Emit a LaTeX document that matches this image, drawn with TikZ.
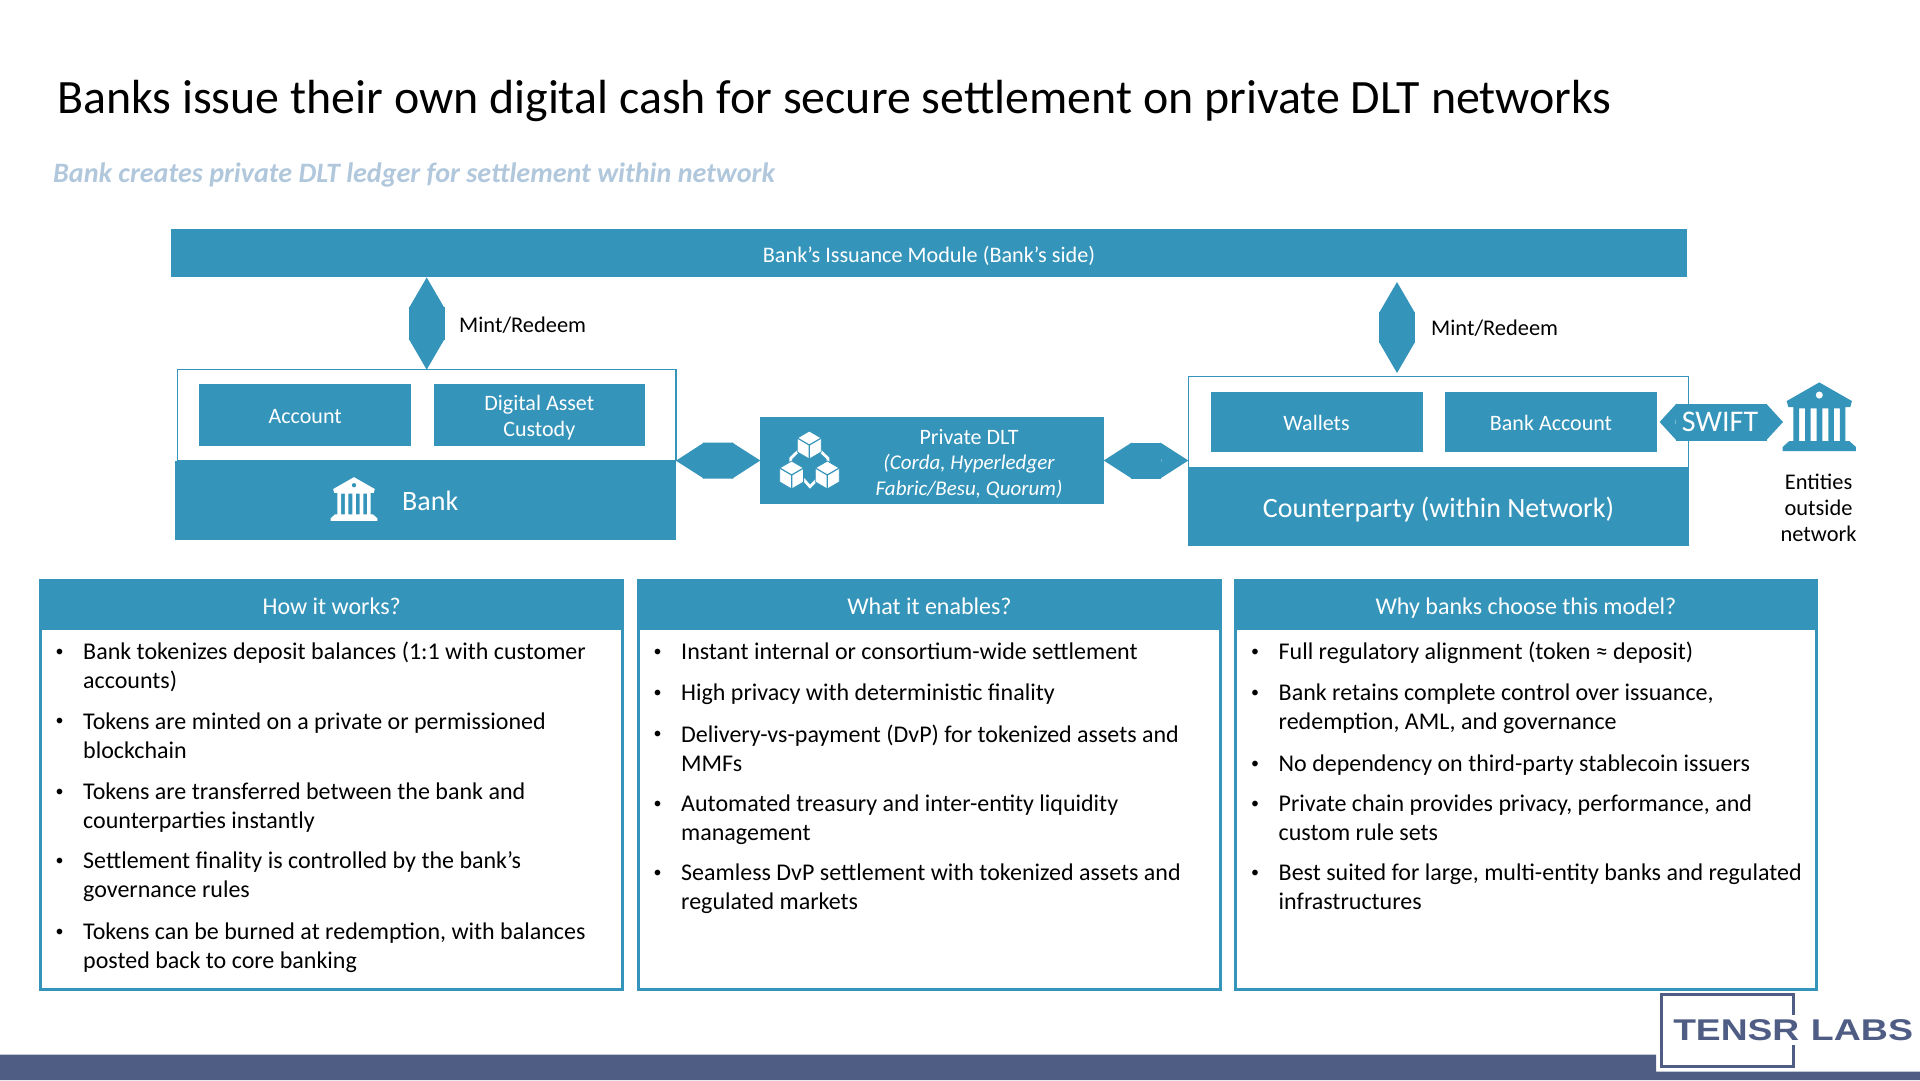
\documentclass[tikz,border=0pt]{standalone}
\usepackage{fontspec}
\setmainfont{Carlito}
\newfontfamily\logofont{Liberation Sans}
\usepackage{xcolor}
\usetikzlibrary{arrows.meta}
\definecolor{tealblue}{HTML}{3494BA}
\definecolor{slatebar}{HTML}{4F5D85}
\definecolor{subtitleblue}{HTML}{B0C7DC}

\tikzset{
    pics/bankicon/.style={code={
        \fill[#1, even odd rule]
            (0,-103) -- (98,-47) -- (93,-29) -- (78,-29) -- (78,73) -- (90,73) -- (110,91) -- (110,103)
            -- (-110,103) -- (-110,91) -- (-90,73) -- (-78,73) -- (-78,-29) -- (-93,-29) -- (-98,-47) -- cycle
            (-61,-25) rectangle (-43,73) (-26,-25) rectangle (-8,73)
            (9,-25) rectangle (27,73) (44,-25) rectangle (62,73)
            (0,-65) circle (11);
    }},
    pics/cubeicon/.style={code={
        \draw[white, line width=2.8pt] (-30,-30) -- (-56,-5) -- (-56,15) (30,-30) -- (56,-5) -- (56,15)
            (-20,55) -- (2,80) -- (27,55);
        \foreach \cx/\cy in {0/-45, -53/45, 54/45} {
            \filldraw[fill=white, draw=tealblue, line width=0.8pt, shift={(\cx,\cy)}]
                (0,-42) -- (36,-21) -- (36,21) -- (0,42) -- (-36,21) -- (-36,-21) -- cycle;
            \draw[tealblue, line width=1.2pt, shift={(\cx,\cy)}] (-36,-21) -- (0,0) -- (36,-21) (0,0) -- (0,42);
        }
    }},
}

\begin{document}
\begin{tikzpicture}[
    x=1pt, y=-1pt,
    bluebox/.style={
        fill=tealblue,
        text=white,
        inner sep=0pt,
        outer sep=0pt,
        align=center,
        text height=17pt,
        text depth=0pt,
        font=\fontsize{22}{26}\selectfont,
    },
    framebox/.style={
        draw=tealblue,
        fill=white,
        line width=1.2pt,
        inner sep=0pt,
        outer sep=0pt,
    },
    panelbox/.style={
        draw=tealblue,
        fill=white,
        line width=3pt,
        minimum width=581.5pt,
        minimum height=409pt,
        inner sep=0pt,
        outer sep=0pt,
    },
    panelhead/.style={
        bluebox,
        yshift=1.5pt,
        text height=20pt,
        minimum width=584.5pt,
        minimum height=51pt,
        font=\fontsize{24}{28}\selectfont,
    },
    plainlabel/.style={
        anchor=base,
        inner sep=0pt,
        align=center,
        font=\fontsize{22.4}{26}\selectfont,
    },
    itemtext/.style={
        anchor=base west,
        inner sep=0pt,
        align=left,
        font=\fontsize{24}{29}\selectfont,
    },
    itemmark/.style={
        anchor=base,
        inner sep=0pt,
        yshift=3pt,
        font=\fontsize{16}{20}\selectfont,
    },
    hflow/.style={
        draw=tealblue,
        line width=36pt,
        {Stealth[length=28pt,width=36pt,inset=1pt,line width=0pt]}-{Stealth[length=28pt,width=36pt,inset=1pt,line width=0pt]},
    },
    vflow/.style={
        draw=tealblue,
        line width=36pt,
        {Stealth[length=31pt,width=36pt,inset=1pt,line width=0pt]}-{Stealth[length=31pt,width=36pt,inset=1pt,line width=0pt]},
    },
    swiftflow/.style={
        draw=tealblue,
        line width=37pt,
        {Stealth[length=17pt,width=37pt,inset=1pt,line width=0pt]}-{Stealth[length=17pt,width=37pt,inset=1pt,line width=0pt]},
    },
]
\useasboundingbox (0,0) rectangle (1920,1080);

% Title
\node[anchor=base west, inner sep=0pt, font=\fontsize{47.9}{52}\selectfont] (title) at (57,113)
    {Banks issue their own digital cash for secure settlement on private DLT networks};
\node[anchor=base west, inner sep=0pt, text=subtitleblue, font=\fontsize{28.1}{32}\selectfont\bfseries\itshape] (subtitle) at (53,182)
    {Bank creates private DLT ledger for settlement within network};

% Top bar
\node[bluebox, text height=18.5pt, minimum width=1516pt, minimum height=48.5pt, font=\fontsize{22.2}{26}\selectfont] (issuance) at (929,253.2) {Bank’s Issuance Module (Bank’s side)};

% Bank side
\node[framebox, minimum width=498.5pt, minimum height=91pt] (bankframe) at (426.7,415.2) {};
\node[bluebox, minimum width=501.4pt, minimum height=79.3pt] (bankblock) at (425.7,500.3) {};
\node[bluebox, minimum width=211.6pt, minimum height=61.7pt] (account) at (305.2,414.8) {Account};
\node[bluebox, text height=43pt, minimum width=211.4pt, minimum height=61.7pt] (custody) at (539.3,414.8) {Digital Asset\\Custody};
\pic[scale=0.212] at (354,499) {bankicon=white};
\node[anchor=base west, inner sep=0pt, text=white, font=\fontsize{28}{32}\selectfont] (banklabel) at (402,510) {Bank};

% Private DLT
\node[bluebox, minimum width=343.5pt, minimum height=87pt] (dlt) at (932,460.5) {};
\pic[scale=0.333] at (809.3,460) {cubeicon};
\node[text=white, inner sep=0pt, align=center, anchor=base, font=\fontsize{22}{25.5}\selectfont] (dlttext) at (969,495)
    {Private DLT\\{\fontsize{21}{25.5}\selectfont\itshape (Corda, Hyperledger}\\{\fontsize{21}{25.5}\selectfont\itshape Fabric/Besu, Quorum)}};

% Counterparty side
\node[framebox, minimum width=500pt, minimum height=91.3pt] (cpframe) at (1438.3,422.4) {};
\node[bluebox, minimum width=501pt, minimum height=77.7pt, text height=21pt, font=\fontsize{28}{32}\selectfont] (cpblock) at (1438.5,506.9) {Counterparty (within Network)};
\node[bluebox, text height=18.5pt, minimum width=212pt, minimum height=59.8pt] (wallets) at (1316.5,421.6) {Wallets};
\node[bluebox, text height=18.5pt, minimum width=211.6pt, minimum height=59.8pt] (bankaccount) at (1551,421.6) {Bank Account};

% Flows
\coordinate (mintrtop) at (1397,282);
\coordinate (mintrbot) at (1397,373);
\coordinate (swiftin) at (1659.6,422);
\coordinate (swiftout) at (1783,422);
\draw[vflow] (bankframe.north |- issuance.south) -- (bankframe.north);
\draw[vflow] (mintrtop) -- (mintrbot);
\draw[hflow] (bankframe.south east) -- (dlt.west);
\draw[hflow] (dlt.east) -- (dlt.east -| cpframe.west);
\draw[swiftflow] (swiftin) -- (swiftout);
\node[text=white, inner sep=0pt, font=\fontsize{30}{32}\selectfont] (swift) at (1720,422) {SWIFT};
\node[plainlabel, anchor=base west] (mintleft) at (459,332.5) {Mint/Redeem};
\node[plainlabel, anchor=base west] (mintright) at (1431,335) {Mint/Redeem};

% Outside network
\pic[scale=0.333] at (1819.3,416.7) {bankicon=tealblue};
\node[plainlabel] (entities) at (1818.6,489) {Entities};
\node[plainlabel] (outside) at (1818.6,515) {outside};
\node[plainlabel] (network) at (1818.6,541.5) {network};

% How it works
\node[panelbox] (howbox) at (331.7,785) {};
\node[panelhead, anchor=north] (howhead) at (howbox.north) {How it works?};
\foreach \y/\z/\txt in {
    659/688/{Bank tokenizes deposit balances (1:1 with customer\\accounts)},
    728/758/{Tokens are minted on a private or permissioned\\blockchain},
    799/828/{Tokens are transferred between the bank and\\counterparties instantly},
    868/897/{Settlement finality is controlled by the bank’s\\governance rules},
    939/968/{Tokens can be burned at redemption, with balances\\posted back to core banking}} {
    \node[itemmark] (howmark\y) at (59.7,\y) {•};
    \node[itemtext] (howitem\y) at (83,\z) {\txt};
}

% What it enables
\node[panelbox] (whatbox) at (929.5,785) {};
\node[panelhead, anchor=north] (whathead) at (whatbox.north) {What it enables?};
\foreach \y/\z/\txt in {
    659/659/{Instant internal or consortium-wide settlement},
    700/700/{High privacy with deterministic finality},
    741/771/{Delivery-vs-payment (DvP) for tokenized assets and\\MMFs},
    811/840/{Automated treasury and inter-entity liquidity\\management},
    880/909/{Seamless DvP settlement with tokenized assets and\\regulated markets}} {
    \node[itemmark] (whatmark\y) at (657.7,\y) {•};
    \node[itemtext] (whatitem\y) at (681,\z) {\txt};
}

% Why banks choose this model
\node[panelbox] (whybox) at (1526,785) {};
\node[panelhead, anchor=north] (whyhead) at (whybox.north) {Why banks choose this model?};
\foreach \y/\z/\txt in {
    659/659/{Full regulatory alignment (token ≈ deposit)},
    700/729/{Bank retains complete control over issuance,\\redemption, AML, and governance},
    771/771/{No dependency on third-party stablecoin issuers},
    811/840/{Private chain provides privacy, performance, and\\custom rule sets},
    880/909/{Best suited for large, multi-entity banks and regulated\\infrastructures}} {
    \node[itemmark] (whymark\y) at (1255,\y) {•};
    \node[itemtext] (whyitem\y) at (1278.5,\z) {\txt};
}

% Footer and logo
\fill[slatebar] (0,1054.7) -- (1656,1054.7) -- (1656,1071.7) -- (1920,1071.7) -- (1920,1080) -- (0,1080) -- cycle;
\draw[slatebar, line width=3pt] (1793,1015) -- (1793,994) -- (1661.7,994) -- (1661.7,1066.7) -- (1793,1066.7) -- (1793,1045);
\node[anchor=base west, inner sep=0pt, text=slatebar, xscale=1.24, transform shape, font=\logofont\bfseries\fontsize{30}{32}\selectfont] (tensr) at (1673,1040.7) {TENSR};
\node[anchor=base west, inner sep=0pt, text=slatebar, xscale=1.25, transform shape, font=\logofont\bfseries\fontsize{30}{32}\selectfont] (labs) at (1810.7,1040.7) {LABS};

\end{tikzpicture}
\end{document}
